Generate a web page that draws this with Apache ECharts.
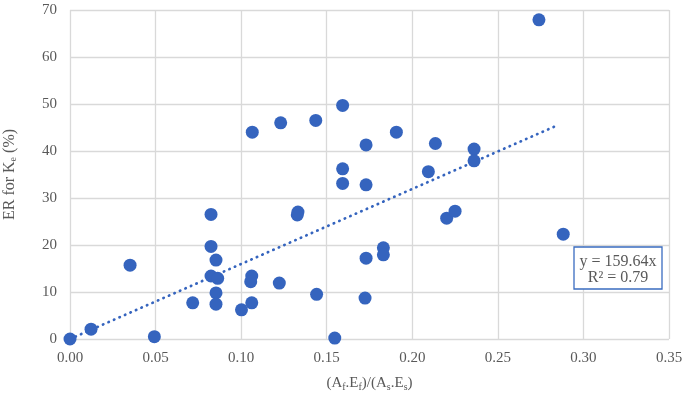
<!DOCTYPE html>
<html>
<head>
<meta charset="utf-8">
<script src="https://cdn.jsdelivr.net/npm/echarts@6/dist/echarts.min.js"></script>
<style>html,body{margin:0;padding:0;background:#fff;}#chart{width:685px;height:394px;}</style>
</head>
<body>
<div id="chart"></div>
<script>
// Data
const xValues = [0.000, 0.0123, 0.0351, 0.0493, 0.0717, 0.0824, 0.0824, 0.0824, 0.0853, 0.0863,
  0.0853, 0.0853, 0.1002, 0.1065, 0.1062, 0.1056, 0.1062, 0.1223, 0.1231, 0.1328,
  0.1332, 0.1436, 0.1441, 0.1547, 0.1593, 0.1593, 0.1593, 0.1730, 0.1730, 0.1730,
  0.1724, 0.1831, 0.1831, 0.1907, 0.2094, 0.2135, 0.2201, 0.2250, 0.2361, 0.2361,
  0.2740, 0.2882];
const yValues = [0.0, 2.1, 15.7, 0.5, 7.7, 26.5, 19.7, 13.4, 16.8, 12.9,
  9.8, 7.4, 6.2, 44.0, 13.4, 12.2, 7.7, 11.9, 46.0, 26.4,
  27.0, 46.5, 9.5, 0.2, 49.7, 36.2, 33.1, 41.3, 32.8, 17.2,
  8.7, 19.4, 17.9, 44.0, 35.6, 41.6, 25.7, 27.2, 40.4, 37.9,
  67.9, 22.3];
const trendX = [0, 0.285];
const trendY = [0, 45.5];
const xTicks = ['0.00', '0.05', '0.10', '0.15', '0.20', '0.25', '0.30', '0.35'];
const yTicks = ['0', '10', '20', '30', '40', '50', '60', '70'];
const equationLines = ['y = 159.64x', 'R² = 0.79'];

const FONT = '"Liberation Serif", "Times New Roman", serif';
const TXT = '#595959';
const BLUE = '#3564be';

const chart = echarts.init(document.getElementById('chart'));
const scatterData = xValues.map((x, i) => [x, yValues[i]]);
const trendData = trendX.map((x, i) => [x, trendY[i]]);

chart.setOption({
  animation: false,
  grid: { left: 70, right: 16, top: 10, bottom: 55, containLabel: false, outerBoundsMode: 'none' },
  xAxis: {
    type: 'value', min: 0, max: 0.35, interval: 0.05,
    axisLine: { show: false },
    axisTick: { show: false },
    splitLine: { lineStyle: { color: '#d9d9d9', width: 1.3 } },
    axisLabel: {
      margin: 12, color: TXT, fontFamily: FONT, fontSize: 15,
      formatter: (v) => xTicks[Math.round(v / 0.05)]
    },
    name: '{n|(A}{s|f}{n|.E}{s|f}{n|)/(A}{s|s}{n|.E}{s|s}{n|)}',
    nameLocation: 'middle', nameGap: 36,
    nameTextStyle: {
      rich: {
        n: { fontFamily: FONT, fontSize: 15, color: TXT },
        s: { fontFamily: FONT, fontSize: 10, color: TXT, padding: [7, 0, 0, 0] }
      }
    }
  },
  yAxis: {
    type: 'value', min: 0, max: 70, interval: 10,
    axisLine: { show: false },
    axisTick: { show: false },
    splitLine: { lineStyle: { color: '#d9d9d9', width: 1.3 } },
    axisLabel: {
      margin: 13, color: TXT, fontFamily: FONT, fontSize: 15,
      formatter: (v) => yTicks[Math.round(v / 10)]
    },
    name: '{n|ER for K}{s|e}{n| (%)}',
    nameLocation: 'middle', nameGap: 52,
    nameTextStyle: {
      rich: {
        n: { fontFamily: FONT, fontSize: 16, color: TXT },
        s: { fontFamily: FONT, fontSize: 10, color: TXT, padding: [7, 0, 0, 0] }
      }
    }
  },
  series: [
    {
      type: 'line', data: trendData, showSymbol: false, symbol: 'none',
      lineStyle: { color: BLUE, width: 2.7, type: [0.4, 5.6], cap: 'round' },
      z: 3
    },
    {
      type: 'scatter', data: scatterData, symbolSize: 13,
      itemStyle: { color: BLUE, borderWidth: 0, opacity: 1 },
      z: 4
    }
  ],
  graphic: [
    {
      type: 'rect', z: 10,
      shape: { x: 574, y: 247, width: 88, height: 42 },
      style: { fill: '#ffffff', stroke: '#3a6cc0', lineWidth: 1.3 }
    },
    {
      type: 'text', z: 11, x: 618, y: 262,
      style: { text: equationLines[0], font: '16px ' + FONT, fill: TXT, align: 'center', verticalAlign: 'middle' }
    },
    {
      type: 'text', z: 11, x: 618, y: 278,
      style: { text: equationLines[1], font: '16px ' + FONT, fill: TXT, align: 'center', verticalAlign: 'middle' }
    }
  ]
});
</script>
</body>
</html>
